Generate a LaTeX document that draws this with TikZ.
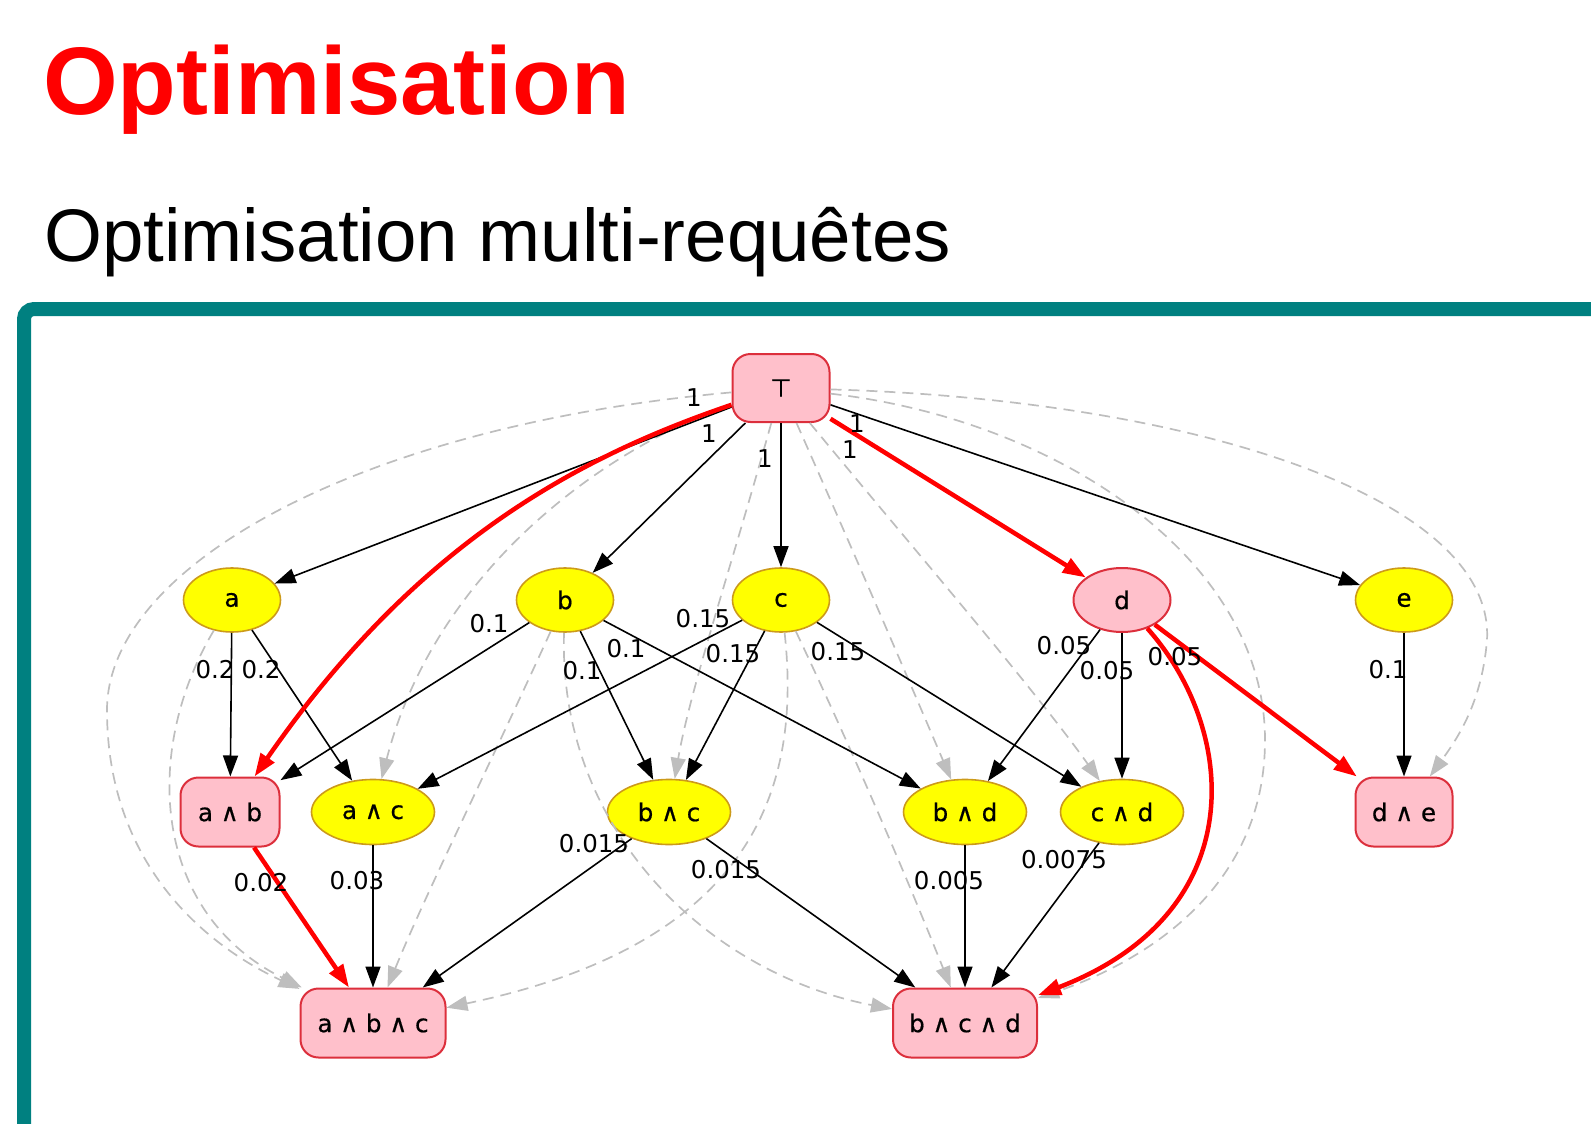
\documentclass[tikz,border=0pt]{standalone}
\usepackage{fontspec}
\setmainfont{Liberation Sans}
\newfontfamily\dejavu{DejaVu Sans}
\newfontfamily\dejavunode[FakeBold=0.6]{DejaVu Sans}
\usetikzlibrary{arrows.meta,shapes.geometric}

\definecolor{gvyellow}{HTML}{FFFF00}
\definecolor{gvgold}{HTML}{CC9A1A}
\definecolor{gvpink}{HTML}{FFC0CB}
\definecolor{gvborder}{HTML}{DC2F3C}
\definecolor{gvred}{HTML}{FF0000}
\definecolor{gvgray}{HTML}{BEBEBE}
\definecolor{frameteal}{HTML}{008080}

\tikzset{
  gvtext/.style={font={\dejavu\fontsize{24.5pt}{26pt}\selectfont}},
  single/.style={ellipse, font={\dejavunode\fontsize{24.5pt}{26pt}\selectfont},
    draw=gvgold, fill=gvyellow, line width=1.6pt,
    minimum width=97pt, minimum height=64pt, inner sep=0pt},
  pair/.style={single, minimum width=123pt, minimum height=65pt},
  picked/.style={single, draw=gvborder, fill=gvpink, line width=2pt},
  pickedbox/.style={rectangle, rounded corners=18pt,
    font={\dejavunode\fontsize{24.5pt}{26pt}\selectfont}, draw=gvborder,
    fill=gvpink, line width=2pt, minimum width=97pt, minimum height=68pt, inner sep=0pt},
  cost/.style={gvtext, inner sep=0pt},
  plan/.style={-{Triangle[length=21pt,width=15pt]}, line width=1.6pt, black},
  best/.style={-{Triangle[length=23pt,width=16pt]}, line width=4.5pt, gvred},
  implied/.style={-{Triangle[length=21pt,width=15pt]}, gvgray, line width=1.7pt,
    dash pattern=on 11pt off 7pt},
}

\begin{document}
\begin{tikzpicture}[x=1pt,y=-1pt]
  \useasboundingbox (0,0) rectangle (1591,1124);

  \node[anchor=base west, inner sep=0pt, text=gvred,
    font=\fontsize{96pt}{96pt}\selectfont\bfseries] (title) at (43,114) {Optimisation};
  \node[anchor=base west, inner sep=0pt,
    font=\fontsize{74.5pt}{75pt}\selectfont] (subtitle) at (44,261) {Optimisation multi-requêtes};
  \draw[frameteal, line width=14pt, rounded corners=10pt] (24,1124) -- (24,309) -- (1591,309);

  % lattice of queries
  \node[pickedbox] (T) at (781,388) {⊤};
  \node[single] (a) at (232,600) {a};
  \node[single] (b) at (565,600) {b};
  \node[single] (c) at (781,600) {c};
  \node[picked] (d) at (1122,600) {d};
  \node[single] (e) at (1404,600) {e};
  \node[pickedbox, minimum width=99pt, minimum height=69pt] (ab) at (230,812) {a ∧ b};
  \node[pair] (ac) at (373,812) {a ∧ c};
  \node[pair] (bc) at (669,812) {b ∧ c};
  \node[pair] (bd) at (965,812) {b ∧ d};
  \node[pair] (cd) at (1122,812) {c ∧ d};
  \node[pickedbox, minimum height=69pt] (de) at (1404,812) {d ∧ e};
  \node[pickedbox, minimum width=145pt, minimum height=69pt] (abc) at (373,1023) {a ∧ b ∧ c};
  \node[pickedbox, minimum width=144pt, minimum height=69pt] (bcd) at (965,1023) {b ∧ c ∧ d};

  % transitive edges
  \draw[implied] (T) .. controls (355,426) and (107,568) .. (107,710)
    .. controls (107,862) and (203,944) .. (abc);
  \draw[implied] (a) .. controls (142,751) and (152,913) .. (abc);
  \draw[implied] (b) .. controls (487,771) and (426,893) .. (abc);
  \draw[implied] (c) .. controls (802,791) and (751,944) .. (abc);
  \draw[implied] (T) .. controls (609,446) and (436,568) .. (ac);
  \draw[implied] (T) .. controls (731,568) and (690,690) .. (bc);
  \draw[implied] (b) .. controls (558,832) and (710,974) .. (bcd);
  \draw[implied] (c) .. controls (862,771) and (913,893) .. (bcd);
  \draw[implied] (T) .. controls (852,548) and (913,690) .. (bd);
  \draw[implied] (T) .. controls (913,548) and (1035,690) .. (cd);
  \draw[implied] (T) .. controls (1060,420) and (1265,560) .. (1265,740)
    .. controls (1265,893) and (1137,964) .. (bcd);
  \draw[implied] (T) .. controls (1200,400) and (1495,500) .. (1487,640)
    .. controls (1482,700) and (1460,735) .. (de);

  \foreach \s/\t in {T/a,T/b,T/c,T/e,a/ab,a/ac,b/ab,b/bc,b/bd,c/ac,c/bc,c/cd,
      d/bd,d/cd,e/de,ac/abc,bc/abc,bc/bcd,bd/bcd,cd/bcd}
    \draw[plan] (\s) -- (\t);

  % chosen plan
  \draw[best] (T) .. controls (575,458) and (415,545) .. (ab);
  \draw[best] (T) -- (d);
  \draw[best] (d) -- (de);
  \draw[best] (ab) -- (abc);
  \draw[best] (d) .. controls (1238,730) and (1253,913) .. (bcd);

  \foreach \x/\y/\w [count=\i] in {694/398/1, 709/434/1, 765/459/1, 857/424/1, 850/450/1,
      215/670/0.2, 261/670/0.2, 489/624/0.1, 582/671/0.1, 626/649/0.1,
      703/619/0.15, 733/654/0.15, 838/652/0.15, 1064/646/0.05, 1107/671/0.05,
      1175/657/0.05, 1388/670/0.1, 261/883/0.02, 357/881/0.03, 594/844/0.015,
      726/870/0.015, 949/881/0.005, 1064/860/0.0075}
    \node[cost] (w\i) at (\x,\y) {\w};
\end{tikzpicture}
\end{document}
